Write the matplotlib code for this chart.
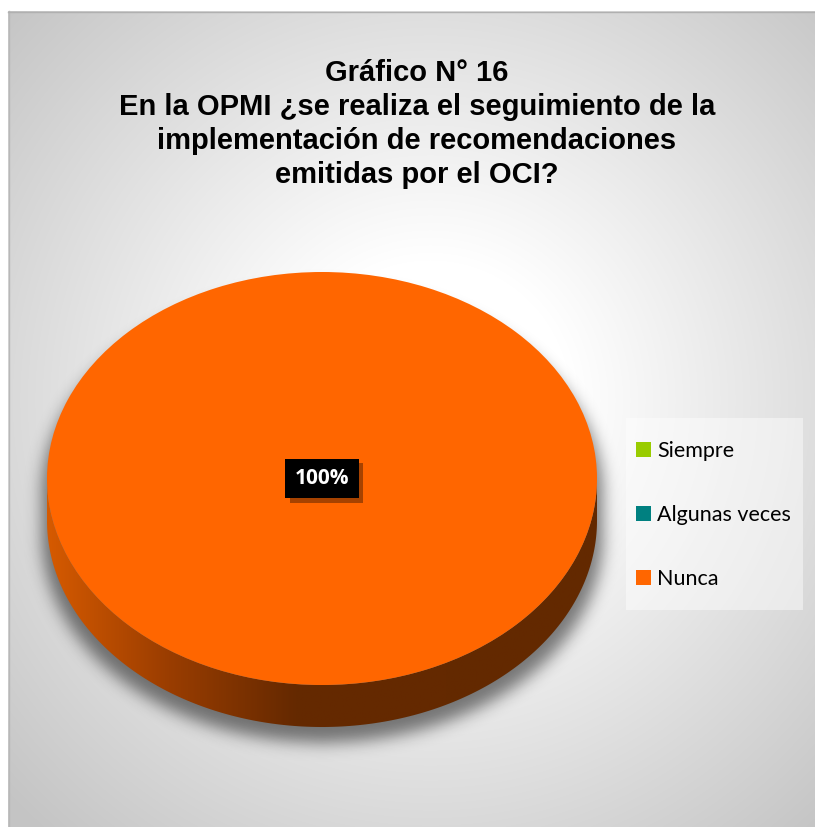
import numpy as np
import matplotlib
matplotlib.use("Agg")
import matplotlib.pyplot as plt
from matplotlib.patches import Polygon, Rectangle
from matplotlib.colors import LinearSegmentedColormap
import matplotlib.patheffects as pe

# ---- data ----
categories = ["Siempre", "Algunas veces", "Nunca"]
values = [0, 0, 100]
colors = ["#99CC00", "#008080", "#FF6600"]
title_lines = [
    "Gráfico N° 16",
    "En la OPMI ¿se realiza el seguimiento de la",
    "implementación de recomendaciones",
    "emitidas por el OCI?",
]

W, H = 815, 827
fig = plt.figure(figsize=(W / 100, H / 100), dpi=100, facecolor="#c9c9c9")

# ---- background: radial grey gradient inside a thin frame ----
bg = fig.add_axes([0, 0, 1, 1])
EW, EH = W + 10, H + 10
yy, xx = np.mgrid[0:EH, 0:EW]
r = np.hypot(xx - 430, yy - 400)
t = np.clip((r - 140) / 440, 0, 1)
g = 1 - 0.23 * t
img = np.dstack([g, g, g])
img[:11, :] = 1
img[:, :8] = 1
bg.imshow(img, extent=(0, EW, EH, 0), interpolation="bilinear", zorder=0)
bg.plot([8.5, 8.5], [11, EH], color="#b8b8b8", lw=1, zorder=1)
bg.plot([8, EW], [11.5, 11.5], color="#b0b0b0", lw=1, zorder=1)
# legend panel
bg.add_patch(Rectangle((626, 418), 177, 192, facecolor="white", alpha=0.45,
                       edgecolor="none", zorder=2))
bg.set_xlim(0, W)
bg.set_ylim(H, 0)
bg.set_aspect("auto")
bg.axis("off")

# ---- title ----
fig.text(417 / W, 1 - 59 / H, "\n".join(title_lines), ha="center", va="top",
         fontsize=21, fontweight="bold", family="Liberation Sans",
         linespacing=1.27, color="black")

# ---- pie geometry (pixels) ----
rx, ry = 275.0, 206.5
pcx, pcy = 322.0, 478.5
x0, x1, y0, y1 = -1.12, 1.12, -1.45, 1.1
ax = fig.add_axes([(pcx + x0 * rx) / W, (H - pcy + y0 * ry) / H,
                   (x1 - x0) * rx / W, (y1 - y0) * ry / H])

depth = 42.0 / ry

# soft drop shadow under the disc
nx, ny = int((x1 - x0) * rx), int((y1 - y0) * ry)
gx = np.linspace(x0, x1, nx)
gy = np.linspace(y0, y1, ny)
GX, GY = np.meshgrid(gx, gy)
sx = GX / 1.02
sy = GY + 16.0 / ry
half = np.sqrt(np.clip(1 - sx ** 2, 0, None))
mask = ((np.abs(sx) <= 1) & (sy <= half) & (sy >= -half - depth)).astype(float)
sigma = 8.0
kx = np.arange(-3 * sigma, 3 * sigma + 1)
k = np.exp(-kx ** 2 / (2 * sigma ** 2))
k /= k.sum()
blur = np.apply_along_axis(lambda m: np.convolve(m, k, "same"), 1, mask)
blur = np.apply_along_axis(lambda m: np.convolve(m, k, "same"), 0, blur)
shadow = np.zeros((ny, nx, 4))
shadow[..., 3] = 0.5 * blur
ax.imshow(shadow, extent=(x0, x1, y0, y1), origin="lower",
          interpolation="bilinear", zorder=0)

# side wall of the disc with a horizontal shade
th = np.linspace(np.pi, 2 * np.pi, 200)
top_arc = np.column_stack([np.cos(th), np.sin(th)])
bot_arc = np.column_stack([np.cos(th[::-1]), np.sin(th[::-1]) - depth])
side = Polygon(np.vstack([top_arc, bot_arc]), closed=True,
               facecolor="none", edgecolor="none")
ax.add_patch(side)
side_cmap = LinearSegmentedColormap.from_list(
    "side", [(0, "#d65a00"), (0.22, "#9a3d00"), (0.45, "#652900"), (1, "#632900")])
grad = np.tile(np.linspace(0, 1, 256), (8, 1))
side_img = ax.imshow(grad, extent=(-1, 1, -1 - depth, 0), cmap=side_cmap,
                     aspect="auto", interpolation="bilinear", zorder=1)
side_img.set_clip_path(side)

# top face
def pct(p):
    return f"{p:.0f}%" if p > 0 else ""

wedges, texts, autotexts = ax.pie(
    values, colors=colors, startangle=90, counterclock=False,
    autopct=pct, pctdistance=0.0, radius=1,
    wedgeprops=dict(linewidth=0),
    textprops=dict(color="white", fontsize=15, fontweight="bold",
                   family="Open Sans"))
for w in wedges:
    w.set_zorder(2)
for at in autotexts:
    if not at.get_text():
        at.set_visible(False)
        continue
    at.set_zorder(5)
    at.set_bbox(dict(facecolor="black", edgecolor="none", pad=6.8))
    at.get_bbox_patch().set_path_effects(
        [pe.SimplePatchShadow(offset=(3, -3), shadow_rgbFace="black", alpha=0.35),
         pe.Normal()])

ax.set_aspect("auto")
ax.set_xlim(x0, x1)
ax.set_ylim(y0, y1)
ax.axis("off")

# ---- legend ----
fig.legend(wedges, categories, loc="center left",
           bbox_to_anchor=(636 / W, 1 - 515 / H), frameon=False,
           prop=dict(family="Lato", size=15.5), handlelength=0.68,
           handleheight=0.68, handletextpad=0.3, labelspacing=2.05,
           borderpad=0, borderaxespad=0)

fig.savefig("out.png", dpi=100, facecolor=fig.get_facecolor())
